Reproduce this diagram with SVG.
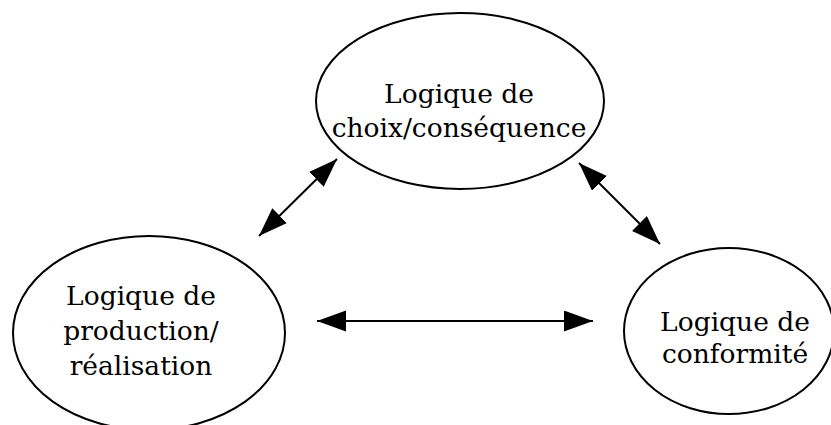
<svg xmlns="http://www.w3.org/2000/svg" width="831" height="425" viewBox="0 0 831 425">
  <style>
    .node ellipse { fill: #ffffff; stroke: #000000; stroke-width: 2; }
    .node text { font-family: "DejaVu Serif", "Liberation Serif", serif; font-size: 26.5px; fill: #000000; text-anchor: middle; }
    .links line { stroke: #000000; stroke-width: 2; marker-start: url(#head); marker-end: url(#head); }
  </style>
  <defs>
    <marker id="head" markerUnits="userSpaceOnUse" markerWidth="30" markerHeight="22" refX="29" refY="10.5" orient="auto-start-reverse">
      <path d="M0,0 L29,10.5 L0,21 Z" fill="#000000"/>
    </marker>
  </defs>
  <rect width="831" height="425" fill="#ffffff"/>

  <g id="choix">
    <g class="node">
      <ellipse cx="460" cy="101" rx="144" ry="88"/>
      <text x="459" y="103">Logique de</text>
      <text x="459" y="137">choix/conséquence</text>
    </g>
  </g>

  <g id="production">
    <g class="node">
      <ellipse cx="149" cy="333" rx="136" ry="97"/>
      <text x="141" y="305">Logique de</text>
      <text x="141" y="340">production/</text>
      <text x="141" y="375">réalisation</text>
    </g>
  </g>

  <g id="conformite">
    <g class="node">
      <ellipse cx="729" cy="331" rx="105" ry="83"/>
      <text x="735" y="331">Logique de</text>
      <text x="735" y="363">conformité</text>
    </g>
  </g>

  <g class="links">
    <line x1="259" y1="236" x2="337" y2="159"/>
    <line x1="579" y1="163" x2="660" y2="244"/>
    <line x1="317" y1="321" x2="593" y2="321"/>
  </g>
</svg>
